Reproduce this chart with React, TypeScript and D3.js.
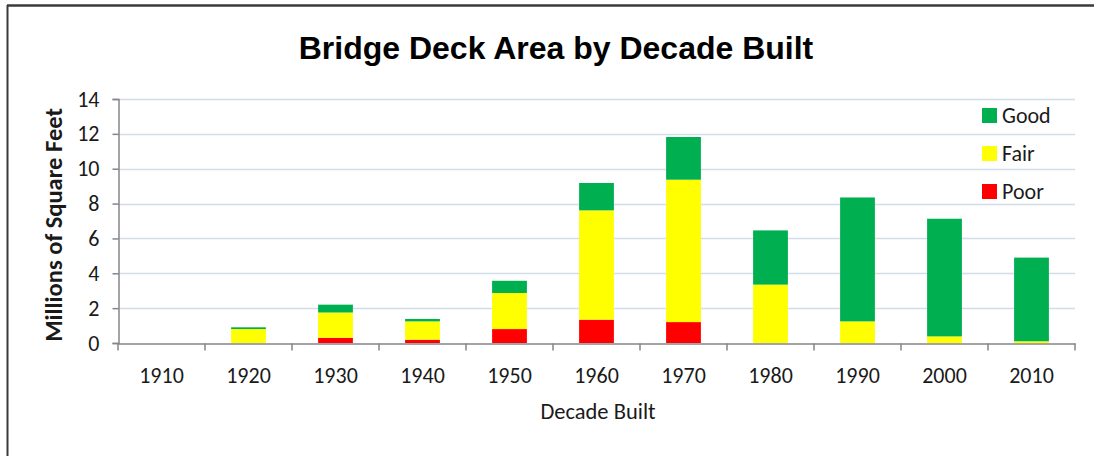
import React, { useEffect, useRef } from "react";
import * as d3 from "d3";

const decades = ["1910", "1920", "1930", "1940", "1950", "1960", "1970", "1980", "1990", "2000", "2010"];
const poor = [0, 0, 0.3, 0.19, 0.8, 1.34, 1.2, 0, 0, 0, 0];
const fair = [0, 0.8, 1.45, 1.05, 2.07, 6.27, 8.17, 3.35, 1.24, 0.38, 0.1];
const good = [0, 0.1, 0.45, 0.14, 0.7, 1.57, 2.45, 3.11, 7.11, 6.75, 4.8];
const yTicks = [0, 2, 4, 6, 8, 10, 12, 14];
const seriesKeys = ["Poor", "Fair", "Good"];
const seriesColors = { Poor: "#ff0000", Fair: "#ffff00", Good: "#00b050" };
const legendOrder = ["Good", "Fair", "Poor"];

const W = 1094;
const H = 456;
const margin = { left: 118, right: 19, top: 99, bottom: 113 };
const labelFont = "Calibri, Carlito, 'Open Sans', 'DejaVu Sans', sans-serif";

export default function App() {
  const ref = useRef<SVGSVGElement>(null);

  useEffect(() => {
    const svg = d3.select(ref.current);
    svg.selectAll("*").remove();

    const rows = decades.map((d, i) => ({ decade: d, Poor: poor[i], Fair: fair[i], Good: good[i] }));
    const stacked = d3.stack<any>().keys(seriesKeys)(rows);

    const x = d3
      .scaleBand()
      .domain(decades)
      .range([margin.left, W - margin.right])
      .paddingInner(0.6)
      .paddingOuter(0.3);
    const y = d3.scaleLinear().domain([0, 14]).range([H - margin.bottom, margin.top]);

    // frame
    svg.append("line").attr("x1", 7).attr("x2", W).attr("y1", 5.5).attr("y2", 5.5)
      .attr("stroke", "#3a3a3a").attr("stroke-width", 2.5);
    svg.append("line").attr("x1", 7.5).attr("x2", 7.5).attr("y1", 5).attr("y2", H)
      .attr("stroke", "#3a3a3a").attr("stroke-width", 2);

    // title
    svg.append("text")
      .attr("x", 556).attr("y", 59)
      .attr("text-anchor", "middle")
      .style("font-family", "'Liberation Sans', Arial, sans-serif")
      .style("font-weight", "bold")
      .style("font-size", "32px")
      .attr("fill", "#000")
      .text("Bridge Deck Area by Decade Built");

    // gridlines
    svg.append("g")
      .selectAll("line")
      .data(yTicks.filter((t) => t > 0))
      .join("line")
      .attr("x1", margin.left).attr("x2", W - margin.right)
      .attr("y1", (d) => Math.round(y(d)) + 0.5).attr("y2", (d) => Math.round(y(d)) + 0.5)
      .attr("stroke", "#d3ddea").attr("stroke-width", 1.5);

    // bars
    svg.append("g")
      .selectAll("g")
      .data(stacked)
      .join("g")
      .attr("fill", (s: any) => seriesColors[s.key as keyof typeof seriesColors])
      .selectAll("rect")
      .data((s: any) => s)
      .join("rect")
      .attr("x", (d: any) => x(d.data.decade)!)
      .attr("width", x.bandwidth())
      .attr("y", (d: any) => y(d[1]))
      .attr("height", (d: any) => Math.max(0, y(d[0]) - y(d[1])));

    // y axis
    const yAxis = svg.append("g")
      .attr("transform", `translate(${margin.left + 0.5},0)`)
      .call(d3.axisLeft(y).tickValues(yTicks).tickSize(6).tickPadding(13));
    yAxis.select(".domain").attr("stroke", "#868686").attr("stroke-width", 1.5);
    yAxis.selectAll(".tick line").attr("stroke", "#868686").attr("stroke-width", 1.5);
    yAxis.selectAll(".tick text")
      .style("font-family", labelFont).style("font-size", "22px").attr("fill", "#1a1a1a");

    // x axis
    const xAxis = svg.append("g")
      .attr("transform", `translate(0,${Math.round(y(0)) + 0.5})`)
      .call(d3.axisBottom(x).tickSize(0));
    xAxis.select(".domain").attr("stroke", "#868686").attr("stroke-width", 1.5);
    xAxis.selectAll(".tick text")
      .attr("y", 39).attr("dy", null)
      .style("font-family", labelFont).style("font-size", "22px").attr("fill", "#1a1a1a");
    const step = x.step();
    const bounds = d3.range(decades.length + 1).map((i) => margin.left + i * step);
    xAxis.append("g")
      .selectAll("line")
      .data(bounds)
      .join("line")
      .attr("x1", (d) => d).attr("x2", (d) => d)
      .attr("y1", 0).attr("y2", 7)
      .attr("stroke", "#868686").attr("stroke-width", 1.5);

    // axis titles
    svg.append("text")
      .attr("transform", `translate(62,225) rotate(-90)`)
      .attr("text-anchor", "middle")
      .style("font-family", labelFont).style("font-weight", "bold").style("font-size", "24.5px")
      .attr("fill", "#1a1a1a")
      .text("Millions of Square Feet");

    svg.append("text")
      .attr("x", 598).attr("y", 419)
      .attr("text-anchor", "middle")
      .style("font-family", labelFont).style("font-size", "22.5px")
      .attr("fill", "#1a1a1a")
      .text("Decade Built");

    // legend
    const legend = svg.append("g")
      .selectAll("g")
      .data(legendOrder)
      .join("g")
      .attr("transform", (d, i) => `translate(982,${108 + i * 38})`);
    legend.append("rect")
      .attr("width", 15).attr("height", 15)
      .attr("fill", (d) => seriesColors[d as keyof typeof seriesColors]);
    legend.append("text")
      .attr("x", 20).attr("y", 15)
      .style("font-family", labelFont).style("font-size", "22px")
      .attr("fill", "#1a1a1a")
      .text((d) => d);
  }, []);

  return (
    <svg
      ref={ref}
      width={W}
      height={H}
      style={{ position: "absolute", left: 0, top: 0, background: "#fff" }}
    />
  );
}
